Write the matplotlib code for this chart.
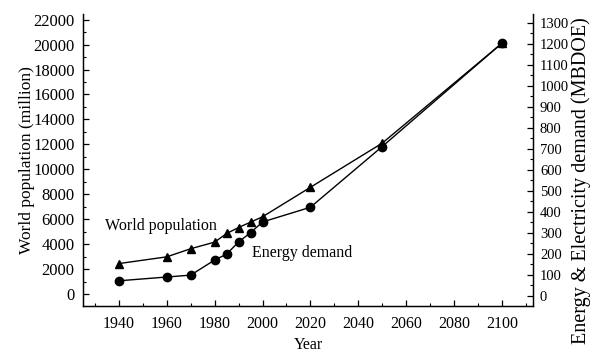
import matplotlib.pyplot as plt
from matplotlib.ticker import MultipleLocator

years = [1940, 1960, 1970, 1980, 1985, 1990, 1995, 2000, 2020, 2050, 2100]
population = [2450, 2990, 3640, 4170, 4860, 5340, 5770, 6200, 8560, 12100, 20100]
energy = [71, 89, 98, 170, 198, 256, 300, 351, 421, 710, 1202]

plt.rcParams['font.family'] = ['Liberation Serif', 'DejaVu Serif']

fig = plt.figure(figsize=(5.92, 3.54), dpi=100)
ax = fig.add_axes([83 / 592, 48 / 354, 450 / 592, 292 / 354])
ax2 = ax.twinx()

ax.plot(years, population, color='black', marker='^', ms=6, lw=1.0)
ax2.plot(years, energy, color='black', marker='o', ms=6, lw=1.0)

ax.set_xlim(1925, 2113)
ax.set_ylim(-950, 22450)
ax2.set_ylim(-49, 1341)

ax.xaxis.set_major_locator(MultipleLocator(20))
ax.xaxis.set_minor_locator(MultipleLocator(10))
ax.yaxis.set_major_locator(MultipleLocator(2000))
ax.yaxis.set_minor_locator(MultipleLocator(1000))
ax2.yaxis.set_major_locator(MultipleLocator(100))
ax2.yaxis.set_minor_locator(MultipleLocator(50))

for a in (ax, ax2):
    a.spines['top'].set_visible(False)
    a.tick_params(which='major', direction='in', length=4, width=0.9)
    a.tick_params(which='minor', direction='in', length=2, width=0.8)
ax.tick_params(axis='y', pad=6, labelsize=12)
ax.tick_params(axis='x', pad=7, labelsize=11.5)
ax2.tick_params(axis='y', pad=5, labelsize=10.5)
ax.spines['left'].set_linewidth(1.0)
ax.spines['bottom'].set_linewidth(1.0)
ax2.spines['right'].set_linewidth(1.0)

ax.set_xlabel('Year', fontsize=11.5)
ax.set_ylabel('World population (million)', fontsize=12.5)
ax2.set_ylabel('Energy & Electricity demand (MBDOE)', fontsize=14.5)
ax.xaxis.set_label_coords(0.5, -0.135)
ax.yaxis.set_label_coords(-0.124, 0.5)
ax2.yaxis.set_label_coords(1.107, 0.43)
ax.xaxis.label.set_va('center')
ax.yaxis.label.set_va('center')
ax2.yaxis.label.set_va('center')

ax.text(1934.2, 5440, 'World population', fontsize=11.5, va='center')
ax.text(1995.6, 3280, 'Energy demand', fontsize=11.5, va='center')

fig.savefig('out.png', dpi=100)
